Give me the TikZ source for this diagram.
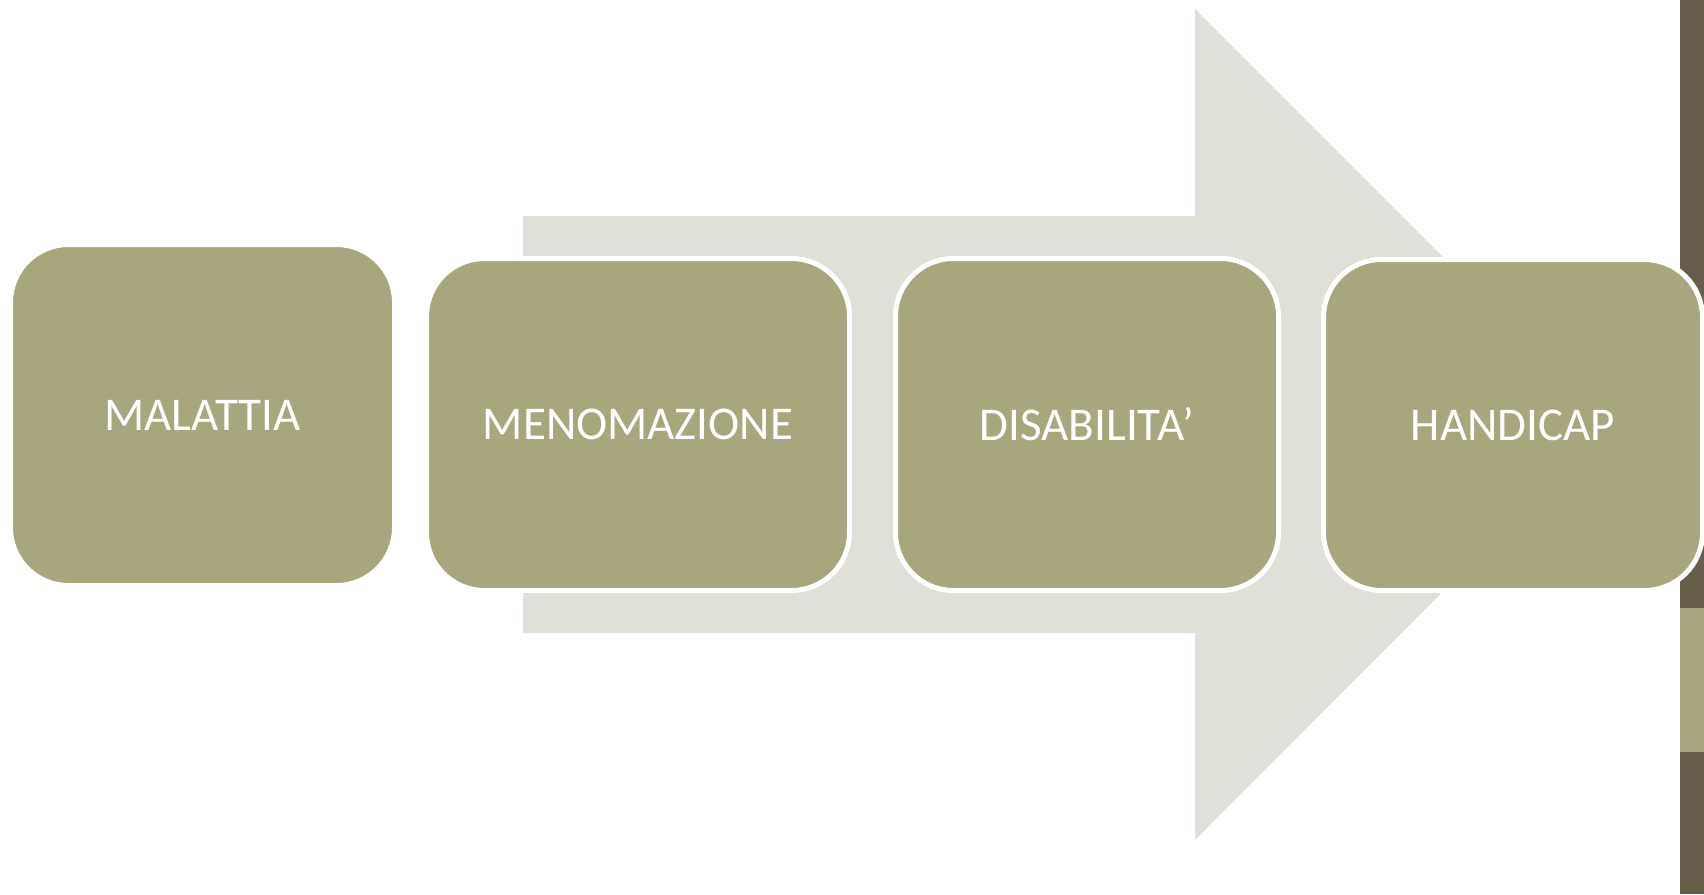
\documentclass[tikz,border=0pt]{standalone}
\usepackage{fontspec}
\setmainfont{Carlito}
\definecolor{boxFill}{HTML}{A8A67D}
\definecolor{arrowFill}{HTML}{E0E0D8}
\definecolor{barDark}{HTML}{665E48}
\begin{document}
\begin{tikzpicture}
[x=1pt,y=-1pt,
  boxDecorate/.style={shape=rectangle,rounded corners=58pt,draw=white,line width=5pt,
    fill=boxFill,text=white,inner sep=0pt,font=\fontsize{47}{56}\selectfont},%
  arrowDecorate/.style={fill=arrowFill,draw=none}]
\useasboundingbox (0,0) rectangle (1704,894);
%% big arrow behind
\path[arrowDecorate] (523,216) -- (1195,216) -- (1195,9) -- (1610,424)
  -- (1195,840) -- (1195,633) -- (523,633) -- cycle;
%% side bar
\fill[barDark] (1680,0) rectangle (1704,894);
\fill[boxFill] (1680,608) rectangle (1704,752);
%% boxes
\foreach \nodename/\x/\y/\w/\h/\txt in {
  malattia/202.5/415/384/341/MALATTIA,
  menomazione/638/424.5/423/332/MENOMAZIONE,
  disabilita/1087/424.5/383/332/DISABILITA’,
  handicap/1513/425/379/331/HANDICAP}
{
  \node (\nodename) at (\x,\y) [boxDecorate,minimum width=\w pt,minimum height=\h pt] {\txt};
}
\end{tikzpicture}
\end{document}
